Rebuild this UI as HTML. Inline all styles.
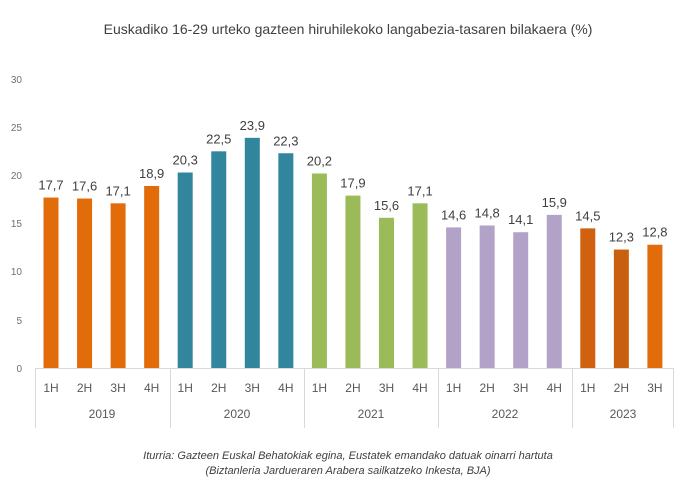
<!DOCTYPE html>
<html><head><meta charset="utf-8"><style>
html,body{margin:0;padding:0;background:#fff;}
svg{display:block;font-family:"Liberation Sans",sans-serif;}
</style></head><body>
<svg width="696" height="492" viewBox="0 0 696 492">
<text x="348" y="34" text-anchor="middle" font-size="14" fill="#404040">Euskadiko 16-29 urteko gazteen hiruhilekoko langabezia-tasaren bilakaera (%)</text>
<g font-size="10" fill="#707070" text-anchor="end">
<text x="22" y="372">0</text><text x="22" y="324">5</text><text x="22" y="275">10</text>
<text x="22" y="227">15</text><text x="22" y="179">20</text><text x="22" y="131">25</text><text x="22" y="83">30</text>
</g>
<g stroke="#d9d9d9" stroke-width="1">
<line x1="35" y1="368.5" x2="674" y2="368.5"/>
<line x1="35.5" y1="368" x2="35.5" y2="428"/>
<line x1="170.5" y1="368" x2="170.5" y2="428"/>
<line x1="304.5" y1="368" x2="304.5" y2="428"/>
<line x1="438.5" y1="368" x2="438.5" y2="428"/>
<line x1="572.5" y1="368" x2="572.5" y2="428"/>
<line x1="673.5" y1="368" x2="673.5" y2="428"/>
</g>
<g id="bars"></g>
<g font-size="12" fill="#595959" text-anchor="middle">
<text x="102" y="418">2019</text><text x="237" y="418">2020</text><text x="371" y="418">2021</text><text x="505" y="418">2022</text><text x="623" y="418">2023</text>
</g>
<g font-size="11" font-style="italic" fill="#404040" text-anchor="middle">
<text x="348" y="459">Iturria: Gazteen Euskal Behatokiak egina, Eustatek emandako datuak oinarri hartuta</text>
<text x="348" y="474">(Biztanleria Jardueraren Arabera sailkatzeko Inkesta, BJA)</text>
</g>
<script>
var d=[[17.7,"#E36C0A"],[17.6,"#E36C0A"],[17.1,"#E36C0A"],[18.9,"#E36C0A"],
[20.3,"#31859C"],[22.5,"#31859C"],[23.9,"#31859C"],[22.3,"#31859C"],
[20.2,"#9BBB59"],[17.9,"#9BBB59"],[15.6,"#9BBB59"],[17.1,"#9BBB59"],
[14.6,"#B3A2C7"],[14.8,"#B3A2C7"],[14.1,"#B3A2C7"],[15.9,"#B3A2C7"],
[14.5,"#D0620F"],[12.3,"#C9600F"],[12.8,"#E36C0A"]];
var q=["1H","2H","3H","4H"],s="",ns="http://www.w3.org/2000/svg";
var g=document.getElementById("bars");
d.forEach(function(v,i){
 var cx=51+i*33.55,h=v[0]*9.63,y=368-h;
 var r=document.createElementNS(ns,"rect");
 r.setAttribute("x",cx-7.5);r.setAttribute("y",y);r.setAttribute("width",15);r.setAttribute("height",h);r.setAttribute("fill",v[1]);g.appendChild(r);
 var t=document.createElementNS(ns,"text");
 t.setAttribute("x",cx);t.setAttribute("y",y-8);t.setAttribute("text-anchor","middle");t.setAttribute("font-size","13");t.setAttribute("fill","#404040");
 t.textContent=v[0].toFixed(1).replace(".",",");g.appendChild(t);
 var l=document.createElementNS(ns,"text");
 l.setAttribute("x",cx);l.setAttribute("y",392);l.setAttribute("text-anchor","middle");l.setAttribute("font-size","12");l.setAttribute("fill","#595959");
 l.textContent=q[i<16?i%4:i-16];g.appendChild(l);
});
</script>
</svg>
</body></html>
